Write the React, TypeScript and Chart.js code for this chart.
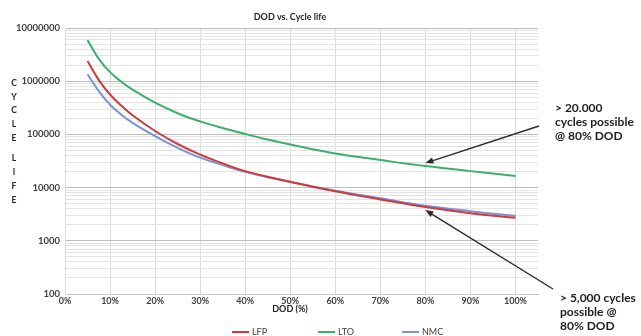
import React, { useEffect, useRef } from "react";
import { Chart, registerables } from "chart.js";

Chart.register(...registerables);

const TITLE = "DOD vs. Cycle life";
const X_TITLE = "DOD (%)";
const Y_TITLE = ["C", "Y", "C", "L", "E", "", "L", "I", "F", "E"];
const DOD = [5, 7.5, 10, 12.5, 15, 20, 25, 30, 35, 40, 45, 50, 60, 70, 80, 90, 100];
const LFP = [2400000, 1050000, 562000, 347000, 229000, 116000, 66000, 41700, 28500, 20400, 16000, 12900, 8500, 6000, 4300, 3300, 2700];
const LTO = [5940000, 2630000, 1480000, 977000, 692000, 395000, 250000, 176000, 132000, 102000, 80000, 64500, 43600, 33000, 25400, 20400, 16600];
const NMC = [1350000, 650000, 360000, 235000, 165000, 93000, 56000, 36500, 26500, 19800, 15600, 12800, 8700, 6300, 4550, 3600, 2950];
const SERIES = ["LFP", "LTO", "NMC"];
const COLORS = ["#cf3a3d", "#3cb06a", "#7a93d4"];
const NOTE_1 = ["> 20.000", "cycles possible", "@ 80% DOD"];
const NOTE_2 = ["> 5,000 cycles", "possible @", "80% DOD"];
const X_TICKS = [0, 10, 20, 30, 40, 50, 60, 70, 80, 90, 100];
const Y_DECADES = [100, 1000, 10000, 100000, 1000000, 10000000];

const FONT = "Lato, 'Open Sans', sans-serif";

function arrow(ctx: CanvasRenderingContext2D, x1: number, y1: number, x2: number, y2: number) {
  const ang = Math.atan2(y2 - y1, x2 - x1);
  const len = 8;
  const w = 3.2;
  const bx = x2 - len * Math.cos(ang);
  const by = y2 - len * Math.sin(ang);
  ctx.strokeStyle = "#2b2b2b";
  ctx.fillStyle = "#2b2b2b";
  ctx.lineWidth = 1.4;
  ctx.beginPath();
  ctx.moveTo(x1, y1);
  ctx.lineTo(bx, by);
  ctx.stroke();
  ctx.beginPath();
  ctx.moveTo(x2, y2);
  ctx.lineTo(bx + w * Math.sin(ang), by - w * Math.cos(ang));
  ctx.lineTo(bx - w * Math.sin(ang), by + w * Math.cos(ang));
  ctx.closePath();
  ctx.fill();
}

const decorPlugin = {
  id: "decor",
  afterDraw(chart: any) {
    const ctx: CanvasRenderingContext2D = chart.ctx;
    const xs = chart.scales.x;
    const ys = chart.scales.y;
    ctx.save();
    ctx.fillStyle = "#262626";
    ctx.textAlign = "center";
    ctx.textBaseline = "middle";
    ctx.font = `bold 9px ${FONT}`;
    ctx.fillText(TITLE, 290, 17);
    ctx.fillText(X_TITLE, 290, 309);
    // vertical y title
    ctx.font = `bold 8.5px ${FONT}`;
    let yy = 83;
    Y_TITLE.forEach((ch) => {
      if (ch) {
        ctx.fillText(ch, 14, yy);
        yy += 13.8;
      } else {
        yy += 6.5;
      }
    });
    // legend
    ctx.font = `9px ${FONT}`;
    ctx.textAlign = "left";
    const lx = [232, 318, 402];
    SERIES.forEach((s, i) => {
      ctx.strokeStyle = COLORS[i];
      ctx.lineWidth = 2;
      ctx.beginPath();
      ctx.moveTo(lx[i], 332);
      ctx.lineTo(lx[i] + 17, 332);
      ctx.stroke();
      ctx.fillStyle = "#404040";
      ctx.fillText(s, lx[i] + 20, 332);
    });
    // annotations
    ctx.fillStyle = "#1f1f1f";
    ctx.font = `bold 12px ${FONT}`;
    NOTE_1.forEach((t, i) => ctx.fillText(t, 555, 108 + i * 14));
    NOTE_2.forEach((t, i) => ctx.fillText(t, 560, 298 + i * 14));
    const i80 = DOD.indexOf(80);
    const ax = xs.getPixelForValue(80);
    arrow(ctx, 539, 126, ax, ys.getPixelForValue(LTO[i80]) - 3);
    arrow(ctx, 553, 289, ax, ys.getPixelForValue(LFP[i80]) + 3);
    ctx.restore();
  },
};

export default function App() {
  const ref = useRef<HTMLCanvasElement | null>(null);
  useEffect(() => {
    if (!ref.current) return;
    const mk = (vals: number[]) => DOD.map((d, i) => ({ x: d, y: vals[i] }));
    const chart = new Chart(ref.current, {
      type: "line",
      data: {
        datasets: [LFP, LTO, NMC].map((vals, i) => ({
          label: SERIES[i],
          data: mk(vals),
          borderColor: COLORS[i],
          backgroundColor: COLORS[i],
          borderWidth: 2,
          pointRadius: 0,
          tension: 0.4,
          fill: false,
        })),
      },
      options: {
        animation: false,
        responsive: false,
        layout: { padding: { top: 28, right: 103, left: 0, bottom: 0 } },
        plugins: { legend: { display: false }, tooltip: { enabled: false }, title: { display: false } },
        scales: {
          x: {
            type: "linear",
            min: 0,
            max: 105,
            afterBuildTicks: (scale: any) => {
              scale.ticks = X_TICKS.map((v) => ({ value: v }));
            },
            afterFit: (scale: any) => {
              scale.height = 42;
            },
            ticks: {
              callback: (v: any) => `${v}%`,
              font: { family: FONT, size: 9, weight: "bold" },
              color: "#404040",
              padding: 2,
              maxRotation: 0,
              autoSkip: false,
            },
            grid: { color: "#dcdcdc", drawTicks: false, lineWidth: 1 },
            border: { display: true, color: "#c8c8c8" },
          },
          y: {
            type: "logarithmic",
            min: 100,
            max: 10000000,
            afterBuildTicks: (scale: any) => {
              const t: any[] = [];
              Y_DECADES.forEach((d, k) => {
                if (k === Y_DECADES.length - 1) {
                  t.push({ value: d, major: true });
                  return;
                }
                for (let m = 1; m <= 9; m++) t.push({ value: m * d, major: m === 1 });
              });
              scale.ticks = t;
            },
            afterFit: (scale: any) => {
              scale.width = 65;
            },
            ticks: {
              autoSkip: false,
              callback: (v: any) => (Y_DECADES.includes(Number(v)) ? String(v) : ""),
              font: { family: FONT, size: 9.5, weight: "bold" },
              color: "#404040",
              padding: 5,
            },
            grid: {
              drawTicks: false,
              color: (c: any) =>
                c.tick && Y_DECADES.includes(c.tick.value) ? "#bdbdbd" : "#e4e4e4",
              lineWidth: 1,
            },
            border: { display: true, color: "#dcdcdc" },
          },
        },
      },
      plugins: [decorPlugin],
    });
    return () => chart.destroy();
  }, []);
  return (
    <div style={{ position: "fixed", left: 0, top: 0, width: 641, height: 336, background: "#fff" }}>
      <canvas ref={ref} width={641} height={336} />
    </div>
  );
}
